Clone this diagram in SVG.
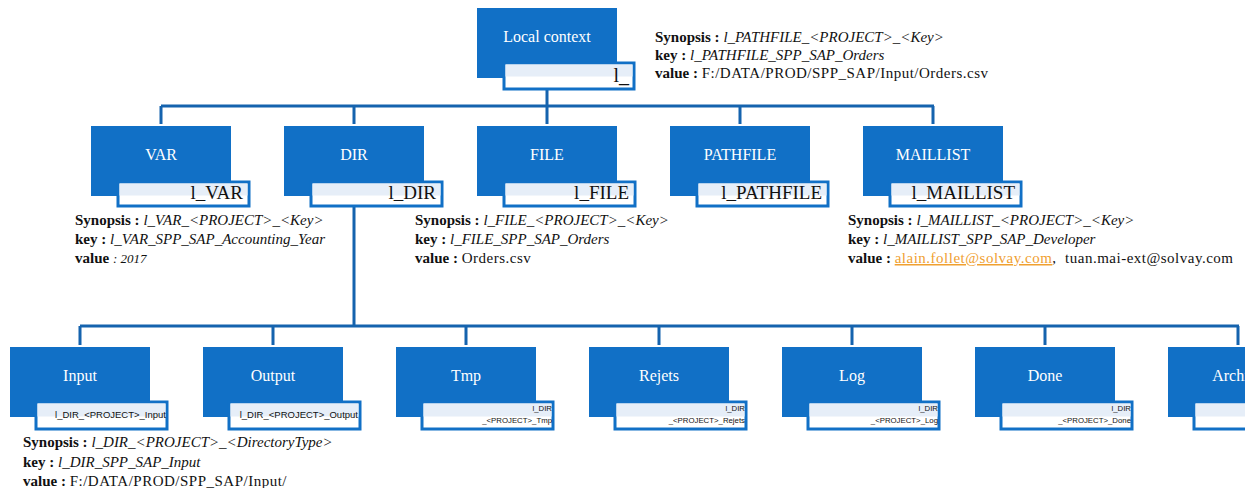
<svg xmlns="http://www.w3.org/2000/svg" width="1253" height="488" viewBox="0 0 1253 488">
<style>
.box{fill:#1170C6;}
.sub{fill:#ffffff;stroke:#1170C6;stroke-width:3;}
.lite{fill:#E6EEF8;}
.lbl{font-family:"Liberation Serif",serif;font-size:16px;fill:#ffffff;text-anchor:middle;}
.key1{font-family:"Liberation Serif",serif;font-size:19px;fill:#111111;text-anchor:end;}
.key2{font-family:"Liberation Sans",sans-serif;font-size:9.5px;fill:#111111;text-anchor:end;}
.key3{font-family:"Liberation Sans",sans-serif;font-size:7.8px;fill:#111111;text-anchor:end;}
.note{font-family:"Liberation Serif",serif;font-size:15px;fill:#111111;}
.b{font-weight:bold;}
.i{font-style:italic;}
.r{letter-spacing:0.5px;}
.link{fill:#F0A030;text-decoration:underline;}
.conn{fill:none;stroke:#1563AE;stroke-width:3;}
</style>
<defs>
<clipPath id="page"><rect x="0" y="0" width="1245" height="488"/></clipPath>
</defs>
<g id="connectors">
<path class="conn" d="M547 89 V106 M161 106 H934 M161 106 V124 M354 106 V124 M547 106 V124 M740 106 V124 M933 106 V124"/>
<path class="conn" d="M354 206 V326 M80 326 H1239 M80 326 V345 M273 326 V345 M466 326 V345 M659 326 V345 M852 326 V345 M1045 326 V345 M1238 326 V345"/>
</g>
<g id="local-context">
<rect class="box" x="477" y="8" width="140" height="70"/>
<rect class="sub" x="504" y="63" width="130" height="26"/>
<rect class="lite" x="505.5" y="64.5" width="127" height="12"/>
<text class="lbl" x="547" y="42">Local context</text>
<text class="key1" x="629" y="82" style="font-size:20px">l_</text>
</g>
<g id="note-local">
<text class="note" x="655" y="42"><tspan class="b">Synopsis : </tspan><tspan class="i">l_PATHFILE_&lt;PROJECT&gt;_&lt;Key&gt;</tspan></text>
<text class="note" x="655" y="60"><tspan class="b">key : </tspan><tspan class="i">l_PATHFILE_SPP_SAP_Orders</tspan></text>
<text class="note" x="655" y="78"><tspan class="b">value : </tspan><tspan class="r">F:/DATA/PROD/SPP_SAP/Input/Orders.csv</tspan></text>
</g>
<g id="var">
<rect class="box" x="91" y="126" width="140" height="70"/>
<rect class="sub" x="118" y="182" width="131" height="24"/>
<rect class="lite" x="119.5" y="183.5" width="128" height="12"/>
<text class="lbl" x="161" y="160">VAR</text>
<text class="key1" x="243" y="199">l_VAR</text>
</g>
<g id="dir">
<rect class="box" x="284" y="126" width="140" height="70"/>
<rect class="sub" x="311" y="182" width="131" height="24"/>
<rect class="lite" x="312.5" y="183.5" width="128" height="12"/>
<text class="lbl" x="354" y="160">DIR</text>
<text class="key1" x="436" y="199">l_DIR</text>
</g>
<g id="file">
<rect class="box" x="477" y="126" width="140" height="70"/>
<rect class="sub" x="504" y="182" width="131" height="24"/>
<rect class="lite" x="505.5" y="183.5" width="128" height="12"/>
<text class="lbl" x="547" y="160">FILE</text>
<text class="key1" x="629" y="199">l_FILE</text>
</g>
<g id="pathfile">
<rect class="box" x="670" y="126" width="140" height="70"/>
<rect class="sub" x="697" y="182" width="131" height="24"/>
<rect class="lite" x="698.5" y="183.5" width="128" height="12"/>
<text class="lbl" x="740" y="160">PATHFILE</text>
<text class="key1" x="822" y="199">l_PATHFILE</text>
</g>
<g id="maillist">
<rect class="box" x="863" y="126" width="140" height="70"/>
<rect class="sub" x="890" y="182" width="131" height="24"/>
<rect class="lite" x="891.5" y="183.5" width="128" height="12"/>
<text class="lbl" x="933" y="160">MAILLIST</text>
<text class="key1" x="1015" y="199">l_MAILLIST</text>
</g>
<g id="note-var">
<text class="note" x="75" y="225"><tspan class="b">Synopsis : </tspan><tspan class="i">l_VAR_&lt;PROJECT&gt;_&lt;Key&gt;</tspan></text>
<text class="note" x="75" y="244"><tspan class="b">key : </tspan><tspan class="i">l_VAR_SPP_SAP_Accounting_Year</tspan></text>
<text class="note" x="75" y="263"><tspan class="b">value </tspan><tspan class="i" style="font-size:13px">: 2017</tspan></text>
</g>
<g id="note-file">
<text class="note" x="415" y="225"><tspan class="b">Synopsis : </tspan><tspan class="i">l_FILE_&lt;PROJECT&gt;_&lt;Key&gt;</tspan></text>
<text class="note" x="415" y="244"><tspan class="b">key : </tspan><tspan class="i">l_FILE_SPP_SAP_Orders</tspan></text>
<text class="note" x="415" y="263"><tspan class="b">value : </tspan><tspan class="r">Orders.csv</tspan></text>
</g>
<g id="note-maillist">
<text class="note" x="848" y="225"><tspan class="b">Synopsis : </tspan><tspan class="i">l_MAILLIST_&lt;PROJECT&gt;_&lt;Key&gt;</tspan></text>
<text class="note" x="848" y="244"><tspan class="b">key : </tspan><tspan class="i">l_MAILLIST_SPP_SAP_Developer</tspan></text>
<text class="note" x="848" y="263"><tspan class="b">value : </tspan><tspan class="link r">alain.follet@solvay.com</tspan><tspan class="r">, &#160;tuan.mai-ext@solvay.com</tspan></text>
</g>
<g id="input">
<rect class="box" x="10" y="347" width="140" height="70"/>
<rect class="sub" x="36" y="402" width="131" height="27"/>
<rect class="lite" x="37.5" y="403.5" width="128" height="13"/>
<text class="lbl" x="80" y="381">Input</text>
<text class="key2" x="166" y="418">l_DIR_&lt;PROJECT&gt;_Input</text>
</g>
<g id="output">
<rect class="box" x="203" y="347" width="140" height="70"/>
<rect class="sub" x="229" y="402" width="131" height="27"/>
<rect class="lite" x="230.5" y="403.5" width="128" height="13"/>
<text class="lbl" x="273" y="381">Output</text>
<text class="key2" x="358" y="418">l_DIR_&lt;PROJECT&gt;_Output</text>
</g>
<g id="tmp">
<rect class="box" x="396" y="347" width="140" height="70"/>
<rect class="sub" x="422" y="402" width="131" height="27"/>
<rect class="lite" x="423.5" y="403.5" width="128" height="13"/>
<text class="lbl" x="466" y="381">Tmp</text>
<text class="key3" x="552" y="411">l_DIR</text>
<text class="key3" x="552" y="423">_&lt;PROJECT&gt;_Tmp</text>
</g>
<g id="rejets">
<rect class="box" x="589" y="347" width="140" height="70"/>
<rect class="sub" x="615" y="402" width="131" height="27"/>
<rect class="lite" x="616.5" y="403.5" width="128" height="13"/>
<text class="lbl" x="659" y="381">Rejets</text>
<text class="key3" x="745" y="411">l_DIR</text>
<text class="key3" x="745" y="423">_&lt;PROJECT&gt;_Rejets</text>
</g>
<g id="log">
<rect class="box" x="782" y="347" width="140" height="70"/>
<rect class="sub" x="808" y="402" width="131" height="27"/>
<rect class="lite" x="809.5" y="403.5" width="128" height="13"/>
<text class="lbl" x="852" y="381">Log</text>
<text class="key3" x="938" y="411">l_DIR</text>
<text class="key3" x="938" y="423">_&lt;PROJECT&gt;_Log</text>
</g>
<g id="done">
<rect class="box" x="975" y="347" width="140" height="70"/>
<rect class="sub" x="1001" y="402" width="131" height="27"/>
<rect class="lite" x="1002.5" y="403.5" width="128" height="13"/>
<text class="lbl" x="1045" y="381">Done</text>
<text class="key3" x="1131" y="411">l_DIR</text>
<text class="key3" x="1131" y="423">_&lt;PROJECT&gt;_Done</text>
</g>
<g id="archive" clip-path="url(#page)">
<rect class="box" x="1168" y="347" width="140" height="70"/>
<rect class="sub" x="1194" y="402" width="131" height="27"/>
<rect class="lite" x="1195.5" y="403.5" width="128" height="13"/>
<text class="lbl" x="1238" y="381">Archive</text>
</g>
<g id="note-input">
<text class="note" x="23" y="447"><tspan class="b">Synopsis : </tspan><tspan class="i">l_DIR_&lt;PROJECT&gt;_&lt;DirectoryType&gt;</tspan></text>
<text class="note" x="23" y="467"><tspan class="b">key : </tspan><tspan class="i">l_DIR_SPP_SAP_Input</tspan></text>
<text class="note" x="23" y="486"><tspan class="b">value : </tspan><tspan class="r">F:/DATA/PROD/SPP_SAP/Input/</tspan></text>
</g>
</svg>
